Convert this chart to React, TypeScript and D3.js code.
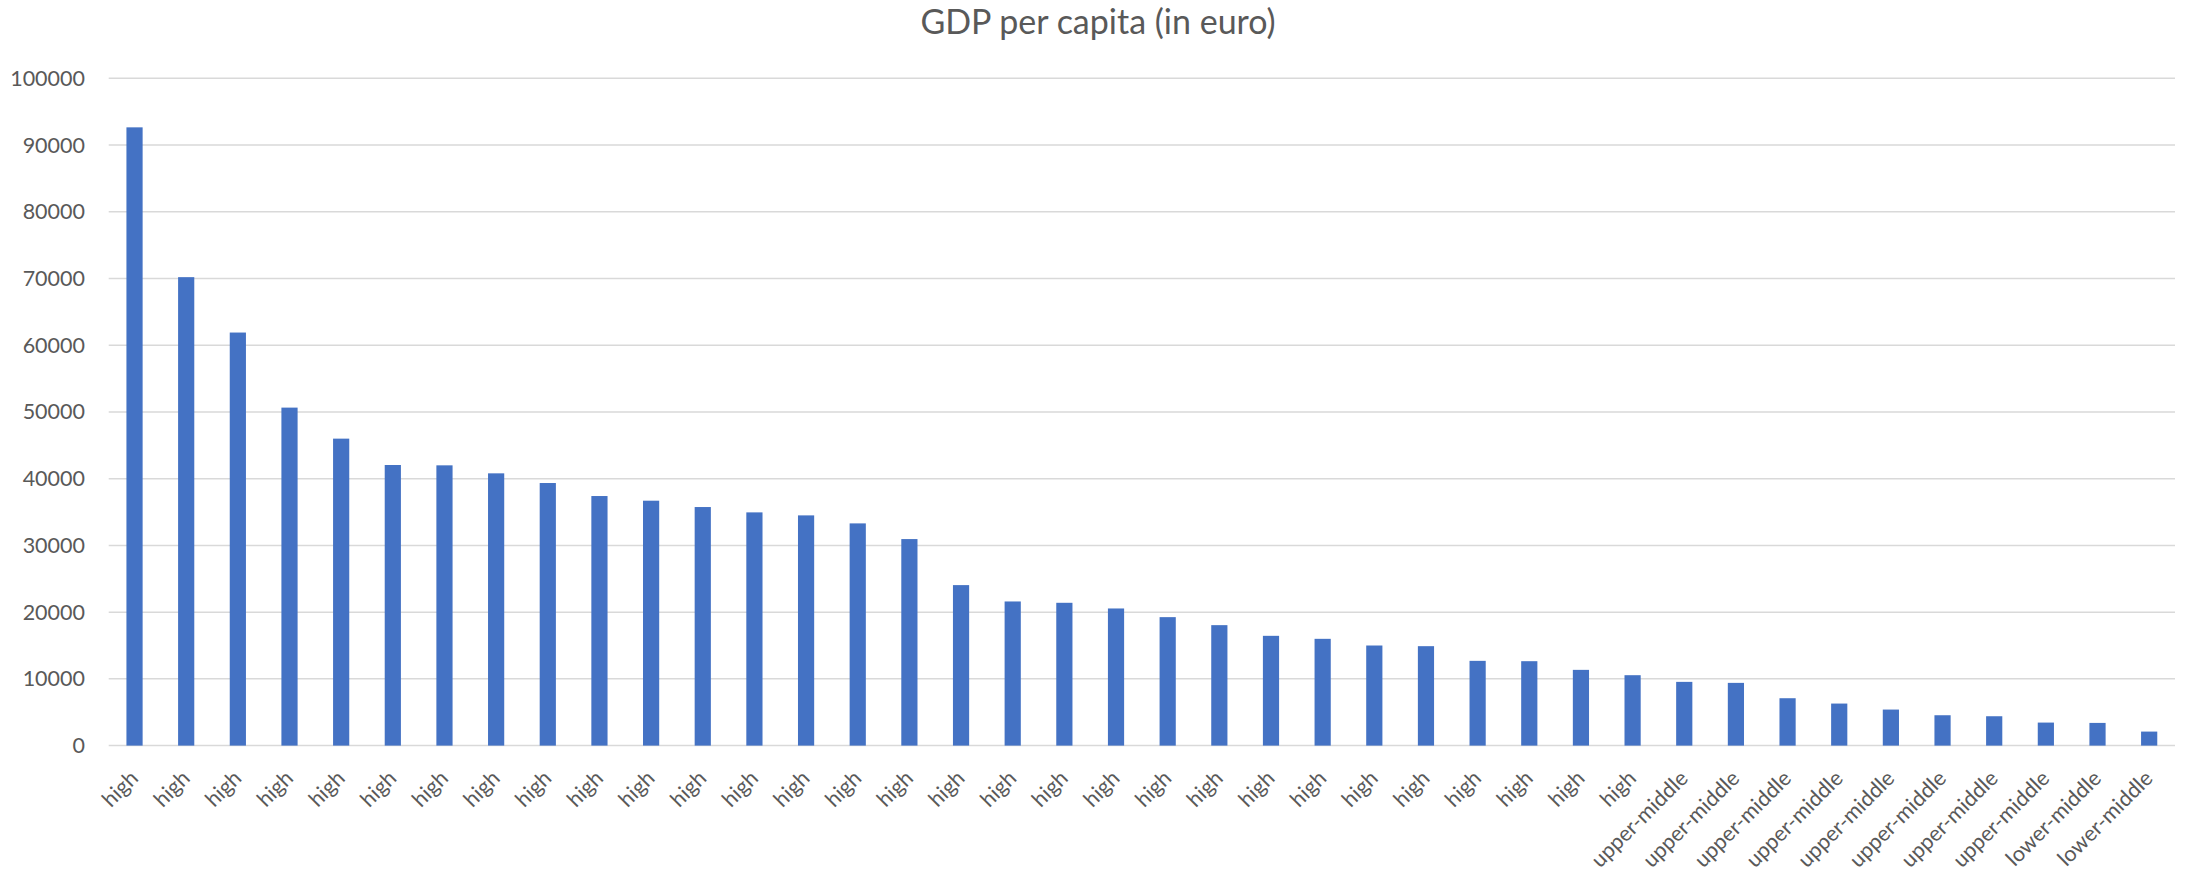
import React from "react";
import * as d3 from "d3";

// Income group of each economy, ordered by GDP per capita (descending)
const incomeGroups: string[] = [
  ...Array(30).fill("high"),
  ...Array(8).fill("upper-middle"),
  ...Array(2).fill("lower-middle"),
];

// GDP per capita in euro, one value per economy
const gdpPerCapita: number[] = [
  92650, 70200, 61900, 50650, 46000, 42050, 42000, 40800, 39350, 37400,
  36700, 35750, 34950, 34500, 33300, 30950, 24050, 21600, 21400, 20550,
  19250, 18050, 16450, 16000, 15000, 14900, 12700, 12650, 11350, 10550,
  9550, 9400, 7100, 6300, 5400, 4550, 4400, 3450, 3400, 2100,
];

const yTicks: number[] = [0, 10000, 20000, 30000, 40000, 50000, 60000, 70000, 80000, 90000, 100000];

const title = "GDP per capita (in euro)";

const W = 2186;
const H = 873;
const plot = { left: 108.7, right: 2175, top: 78.3, bottom: 745.6 };
const FONT = "Lato, 'Open Sans', sans-serif";
const TEXT = "#595959";
const GRID = "#D9D9D9";
const BAR = "#4472C4";

export default function App() {
  const x = d3
    .scaleBand<number>()
    .domain(d3.range(gdpPerCapita.length))
    .range([plot.left, plot.right])
    .padding(0);
  const y = d3.scaleLinear().domain([0, 100000]).range([plot.bottom, plot.top]);
  const barW = x.bandwidth() / (1 + 2.19);

  return (
    <svg
      width={W}
      height={H}
      style={{ position: "absolute", left: 0, top: 0, display: "block", background: "#fff" }}
      fontFamily={FONT}
    >
      <rect x={0} y={0} width={W} height={H} fill="#fff" />
      <text x={1098} y={34} textAnchor="middle" fontSize={34} fill={TEXT}>
        {title}
      </text>

      {yTicks.map((t) => (
        <g key={t}>
          <line
            x1={plot.left}
            x2={plot.right}
            y1={y(t)}
            y2={y(t)}
            stroke={GRID}
            strokeWidth={1.5}
          />
          <text x={85} y={y(t)} dy="0.35em" textAnchor="end" fontSize={21.5} fill={TEXT}>
            {t}
          </text>
        </g>
      ))}

      {gdpPerCapita.map((v, i) => {
        const cx = (x(i) as number) + x.bandwidth() / 2;
        return (
          <rect
            key={i}
            x={cx - barW / 2}
            y={y(v)}
            width={barW}
            height={y(0) - y(v)}
            fill={BAR}
          />
        );
      })}

      {incomeGroups.map((g, i) => {
        const cx = (x(i) as number) + x.bandwidth() / 2;
        const ax = cx + 5;
        const ay = plot.bottom + 34;
        return (
          <text
            key={i}
            x={ax}
            y={ay}
            textAnchor="end"
            fontSize={21.5}
            fill={TEXT}
            transform={`rotate(-45 ${ax} ${ay})`}
          >
            {g}
          </text>
        );
      })}
    </svg>
  );
}
